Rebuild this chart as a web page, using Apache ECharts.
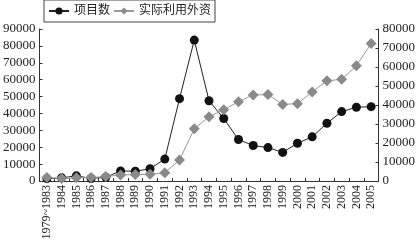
<!DOCTYPE html>
<html><head><meta charset="utf-8">
<script src="https://cdn.jsdelivr.net/npm/echarts@6/dist/echarts.min.js"></script>
<style>html,body{margin:0;padding:0;background:#fff}#c{width:418px;height:248px}</style>
</head><body><div id="c"></div>
<script>
const categories = ['1979~1983','1984','1985','1986','1987','1988','1989','1990','1991','1992','1993','1994','1995','1996','1997','1998','1999','2000','2001','2002','2003','2004','2005'];
const projects = [1392,1856,3073,1498,2233,5945,5779,7273,12978,48764,83437,47549,37011,24556,21001,19799,16918,22347,26140,34171,41081,43664,44001];
const fdi = [1802,1258,1661,1874,2314,3194,3392,3487,4366,11007,27515,33767,37521,41726,45257,45463,40319,40715,46878,52743,53505,60630,72406];
const leftTicks = {min:0,max:90000,interval:10000};
const rightTicks = {min:0,max:80000,interval:10000};
const serif = "'Liberation Serif','Times New Roman','Noto Sans CJK SC',serif";
const chart = echarts.init(document.getElementById('c'), null, {renderer:'canvas'});
const axisCommon = {
  axisLine:{show:true,lineStyle:{color:'#333',width:1}},
  axisTick:{show:true,inside:true,length:3,lineStyle:{color:'#333'}},
  splitLine:{show:false},
  axisLabel:{color:'#222',fontFamily:serif,fontSize:13,margin:4,formatter:v=>String(v)}
};
chart.setOption({
  animation:false,
  backgroundColor:'#fff',
  legend:{
    top:0,left:44,
    padding:[5,4,5,4],
    borderColor:'#444',borderWidth:1,
    itemWidth:20,itemHeight:9,itemGap:3,
    textStyle:{fontFamily:serif,fontSize:12,color:'#222'},
    data:['项目数','实际利用外资']
  },
  grid:{left:36,right:37,top:29,bottom:67},
  xAxis:{
    type:'category',data:categories,boundaryGap:true,
    axisLine:{show:true,lineStyle:{color:'#333'}},
    axisTick:{show:true,inside:true,length:3,lineStyle:{color:'#333'}},
    axisLabel:{rotate:90,interval:0,color:'#222',fontFamily:serif,fontSize:12,margin:4}
  },
  yAxis:[
    Object.assign({type:'value',position:'left'},leftTicks,axisCommon),
    Object.assign({type:'value',position:'right'},rightTicks,axisCommon)
  ],
  series:[
    {name:'项目数',type:'line',yAxisIndex:0,data:projects,symbol:'circle',symbolSize:9,
     itemStyle:{color:'#111'},lineStyle:{color:'#222',width:1}},
    {name:'实际利用外资',type:'line',yAxisIndex:1,data:fdi,symbol:'diamond',symbolSize:11,
     itemStyle:{color:'#8a8a8a'},lineStyle:{color:'#9a9a9a',width:1}}
  ]
});
</script></body></html>
